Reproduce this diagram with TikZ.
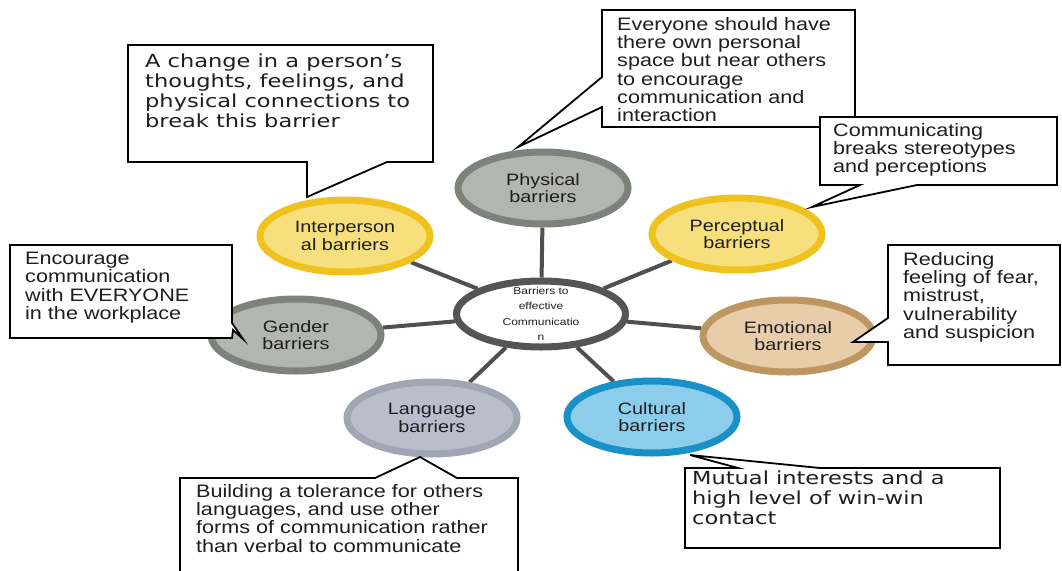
\documentclass[tikz,border=0pt]{standalone}
\usepackage{fontspec}
\setmainfont{Liberation Sans}[FakeStretch=1.2]
\newfontfamily\verd{DejaVu Sans}[FakeStretch=1.25]
\usetikzlibrary{shapes.geometric,backgrounds}
\definecolor{txt}{HTML}{1E1E1E}
\definecolor{spokegray}{HTML}{505050}
\definecolor{ctrline}{HTML}{555555}
\definecolor{grayfill}{HTML}{B2B6AF}
\definecolor{grayline}{HTML}{7D827A}
\definecolor{yelfill}{HTML}{F6DF7C}
\definecolor{yelline}{HTML}{EFC21E}
\definecolor{tanfill}{HTML}{E8CDAA}
\definecolor{tanline}{HTML}{BE965F}
\definecolor{bluefill}{HTML}{8CCDEB}
\definecolor{blueline}{HTML}{1991C8}
\definecolor{langfill}{HTML}{B9BECD}
\definecolor{langline}{HTML}{A0A6B4}
\begin{document}
\begin{tikzpicture}[x=1pt,y=-1pt,
  bubble/.style={ellipse, line width=7pt, minimum width=170pt, minimum height=72pt, inner sep=0pt,
    align=center, text=txt, font=\fontsize{16.5}{17.5}\selectfont},
  ctrtext/.style={align=center, inner sep=0pt, text=txt, font=\fontsize{10}{15.5}\selectfont},
  note/.style={anchor=north west, align=left, inner sep=0pt, text=txt, font=\fontsize{18}{18.3}\selectfont},
  vnote/.style={anchor=north west, align=left, inner sep=0pt, text=txt, font=\verd\fontsize{18}{20}\selectfont},
  callout/.style={draw=black, fill=white, line width=1.8pt, line join=miter},
  spoke/.style={draw=spokegray, line width=4pt}]
\useasboundingbox (0,0) rectangle (1062,570);

% ellipses
\node[bubble, draw=ctrline, fill=white, minimum width=169pt, minimum height=66pt] (ctr) at (541,314) {};
\node[ctrtext] (ctrt) at (541,314) {Barriers to\\effective\\Communicatio\\n};
\node[bubble, draw=grayline, fill=grayfill] (phys) at (543,188) {Physical\\barriers};
\node[bubble, draw=yelline, fill=yelfill] (inter) at (345,236) {Interperson\\al barriers};
\node[bubble, draw=yelline, fill=yelfill] (perc) at (737,234) {Perceptual\\barriers};
\node[bubble, draw=grayline, fill=grayfill] (gend) at (296,335) {Gender\\barriers};
\node[bubble, draw=tanline, fill=tanfill] (emot) at (788,336) {Emotional\\barriers};
\node[bubble, draw=blueline, fill=bluefill] (cult) at (652,417) {Cultural\\barriers};
\node[bubble, draw=langline, fill=langfill] (lang) at (432,418) {Language\\barriers};

\begin{pgfonlayer}{background}
  \fill[white] (0,0) rectangle (1062,570);
  \foreach \n in {phys,inter,perc,gend,emot,cult,lang}
    \draw[spoke] (ctr) -- (\n);
\end{pgfonlayer}

% callouts
\draw[callout] (128,45) -- (433,45) -- (433,162) -- (387,162) -- (307,197) -- (307,162) -- (128,162) -- cycle;
\node[vnote] (tinter) at (145,54) {A change in a person’s\\thoughts, feelings, and\\physical connections to\\break this barrier};

\draw[callout] (602,10) -- (855,10) -- (855,127) -- (602,127) -- (602,107) -- (518,147) -- (602,77) -- cycle;
\node[note] (tphys) at (617,17) {Everyone should have\\there own personal\\space but near others\\to encourage\\communication and\\interaction};

\draw[callout] (820,117) -- (1057,117) -- (1057,185) -- (917,185) -- (812,207) -- (860,185) -- (820,185) -- cycle;
\node[note] (tperc) at (833,123) {Communicating\\breaks stereotypes\\and perceptions};

\draw[callout] (10,245) -- (232,245) -- (232,323) -- (243,339) -- (233,330) -- (232,338) -- (10,338) -- cycle;
\node[note] (tgend) at (25,252) {Encourage\\communication\\with EVERYONE\\in the workplace};

\draw[callout] (888,245) -- (1060,245) -- (1060,365) -- (888,365) -- (888,342) -- (853,342) -- (888,318) -- cycle;
\node[note] (temot) at (903,252) {Reducing\\feeling of fear,\\mistrust,\\vulnerability\\and suspicion};

\draw[callout] (685,468) -- (738,468) -- (690,455) -- (820,468) -- (1000,468) -- (1000,548) -- (685,548) -- cycle;
\node[vnote] (tcult) at (692,471) {Mutual interests and a\\high level of win-win\\contact};

\filldraw[callout] (180,572) -- (180,478) -- (375,478) -- (420,457) -- (457,478) -- (518,478) -- (518,572);
\node[note] (tlang) at (196,484) {Building a tolerance for others\\languages, and use other\\forms of communication rather\\than verbal to communicate};
\end{tikzpicture}
\end{document}
